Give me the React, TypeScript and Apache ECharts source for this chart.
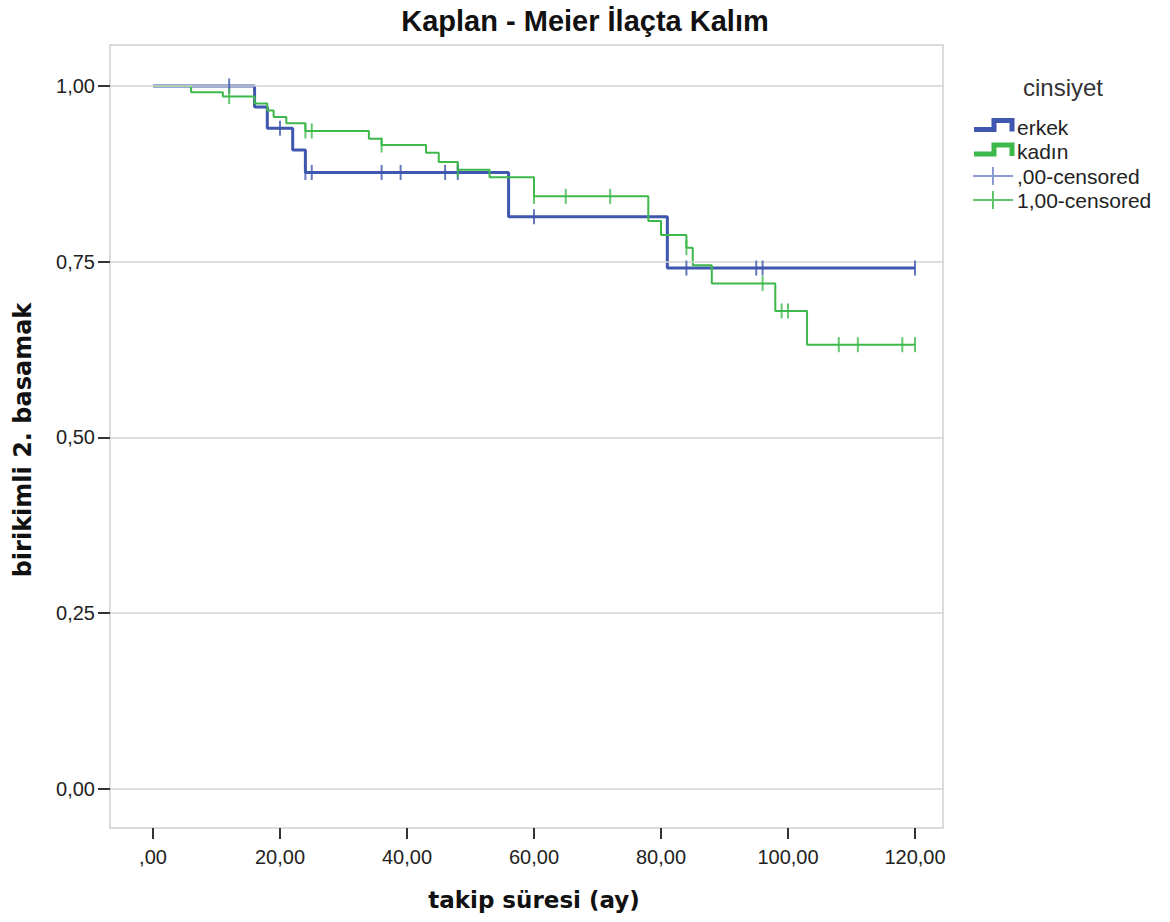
import React, { useEffect, useRef } from "react";
import * as echarts from "echarts";

// ---- data ----
const xTicks = [0, 20, 40, 60, 80, 100, 120];
const xTickLabels = [",00", "20,00", "40,00", "60,00", "80,00", "100,00", "120,00"];
const yTicks = [0, 0.25, 0.5, 0.75, 1];
const yTickLabels = ["0,00", "0,25", "0,50", "0,75", "1,00"];

const erkekTimes = [0, 16, 18, 22, 24, 56, 81, 120];
const erkekSurv = [1.0, 0.97, 0.94, 0.909, 0.877, 0.814, 0.741, 0.741];
const erkekCensorTimes = [12, 20, 24, 25, 36, 39, 46, 48, 60, 84, 95, 96, 120];

const kadinTimes = [0, 6, 11, 16, 18, 19, 21, 24, 34, 36, 43, 45, 48, 53, 60, 78, 80, 84, 85, 88, 98, 103, 120];
const kadinSurv = [1.0, 0.991, 0.985, 0.975, 0.965, 0.956, 0.947, 0.936, 0.925, 0.916, 0.905, 0.892, 0.881, 0.87, 0.843, 0.808, 0.788, 0.77, 0.745, 0.719, 0.68, 0.632, 0.632];
const kadinCensorTimes = [12, 24, 25, 36, 48, 60, 65, 72, 84, 96, 99, 100, 108, 111, 118, 120];

const titleText = "Kaplan - Meier İlaçta Kalım";
const xName = "takip süresi (ay)";
const yName = "birikimli 2. basamak";
const legendTitle = "cinsiyet";
const groupNames = ["erkek", "kadın"];
const censorNames = [",00-censored", "1,00-censored"];

const BLUE = "#3F57AE";
const GREEN = "#3DB94B";
const BLUE_LIGHT = "#8C9BD3";
const GREEN_LIGHT = "#62C46D";
const SANS = "'Liberation Sans', Arial, sans-serif";
const BOLD_AXIS = "'DejaVu Sans', sans-serif";

function survAt(times: number[], surv: number[], t: number) {
  let v = surv[0];
  for (let i = 0; i < times.length; i++) if (times[i] <= t) v = surv[i];
  return v;
}

function labelFor(ticks: number[], labels: string[], v: number) {
  for (let i = 0; i < ticks.length; i++) if (Math.abs(ticks[i] - v) < 1e-6) return labels[i];
  return "";
}

function stepIcon(x: number, y: number, color: string) {
  return {
    type: "polyline",
    shape: { points: [[x, y + 9], [x + 20, y + 9], [x + 20, y], [x + 38, y], [x + 38, y + 11]] },
    style: { stroke: color, lineWidth: 5, fill: null },
  };
}

function censorIcon(x: number, y: number, color: string) {
  return [
    { type: "line", shape: { x1: x, y1: y, x2: x + 40, y2: y }, style: { stroke: color, lineWidth: 2 } },
    { type: "line", shape: { x1: x + 20, y1: y - 9, x2: x + 20, y2: y + 9 }, style: { stroke: color, lineWidth: 2 } },
  ];
}

function txt(x: number, y: number, text: string, font: string, fill = "#222", align = "left", rotation = 0) {
  return {
    type: "text",
    x,
    y,
    rotation,
    style: { text, font, fill, align, textAlign: align, verticalAlign: "middle", textVerticalAlign: "middle" },
  };
}

export default function App() {
  const ref = useRef<HTMLDivElement>(null);
  useEffect(() => {
    if (!ref.current) return;
    const chart = echarts.init(ref.current, undefined, { renderer: "svg" });
    const option: any = {
      animation: false,
      backgroundColor: "#fff",
      grid: {
        left: 110,
        top: 45,
        width: 833,
        height: 783,
        show: true,
        borderColor: "#cfcfcf",
        borderWidth: 1.5,
        containLabel: false,
      },
      xAxis: {
        type: "value",
        min: -6.77,
        max: 124.41,
        axisLine: { show: false, onZero: false },
        splitLine: { show: false },
        axisTick: { show: true, customValues: xTicks, length: 11, inside: false, lineStyle: { color: "#333", width: 2 } },
        axisLabel: {
          customValues: xTicks,
          formatter: (v: number) => labelFor(xTicks, xTickLabels, v),
          margin: 19,
          fontSize: 20,
          color: "#222",
          fontFamily: SANS,
        },
      },
      yAxis: {
        type: "value",
        min: -0.0555,
        max: 1.0583,
        axisLine: { show: false, onZero: false },
        splitLine: { show: false },
        axisTick: { show: true, customValues: yTicks, length: 12, lineStyle: { color: "#333", width: 2 } },
        axisLabel: {
          customValues: yTicks,
          formatter: (v: number) => labelFor(yTicks, yTickLabels, v),
          margin: 15,
          fontSize: 20,
          color: "#222",
          fontFamily: SANS,
        },
      },
      series: [
        {
          name: "grid",
          type: "line",
          data: [],
          z: 1,
          silent: true,
          markLine: {
            silent: true,
            symbol: ["none", "none"],
            label: { show: false },
            lineStyle: { color: "#d3d3d3", width: 1.5, type: "solid" },
            data: yTicks.map((v) => ({ yAxis: v })),
          },
        },
        {
          name: groupNames[0],
          type: "line",
          step: "end",
          showSymbol: false,
          clip: false,
          z: 3,
          data: erkekTimes.map((t, i) => [t, erkekSurv[i]]),
          lineStyle: { color: BLUE, width: 3 },
          itemStyle: { color: BLUE },
        },
        {
          name: groupNames[1],
          type: "line",
          step: "end",
          showSymbol: false,
          clip: false,
          z: 4,
          data: kadinTimes.map((t, i) => [t, kadinSurv[i]]),
          lineStyle: { color: GREEN, width: 2 },
          itemStyle: { color: GREEN },
        },
        {
          name: censorNames[0],
          type: "scatter",
          symbol: "rect",
          symbolSize: [2, 15],
          clip: false,
          z: 5,
          itemStyle: { color: BLUE },
          data: erkekCensorTimes.map((t) => [t, survAt(erkekTimes, erkekSurv, t)]),
        },
        {
          name: censorNames[1],
          type: "scatter",
          symbol: "rect",
          symbolSize: [2, 15],
          clip: false,
          z: 6,
          itemStyle: { color: GREEN },
          data: kadinCensorTimes.map((t) => [t, survAt(kadinTimes, kadinSurv, t)]),
        },
      ],
      graphic: [
        txt(585, 21, titleText, `bold 29px ${SANS}`, "#111", "center"),
        txt(534, 900, xName, `bold 23px ${BOLD_AXIS}`, "#111", "center"),
        txt(23, 440, yName, `bold 24px ${BOLD_AXIS}`, "#111", "center", Math.PI / 2),
        txt(1063, 87, legendTitle, `24px ${SANS}`, "#333", "center"),
        stepIcon(974, 120.5, BLUE),
        txt(1017, 127, groupNames[0], `21px ${SANS}`),
        stepIcon(974, 145, GREEN),
        txt(1017, 151, groupNames[1], `21px ${SANS}`),
        ...censorIcon(973, 176, BLUE_LIGHT),
        txt(1017, 176, censorNames[0], `21px ${SANS}`),
        ...censorIcon(973, 200, GREEN_LIGHT),
        txt(1017, 200, censorNames[1], `21px ${SANS}`),
      ],
    };
    chart.setOption(option);
    return () => chart.dispose();
  }, []);
  return (
    <div
      ref={ref}
      style={{ position: "absolute", left: 0, top: 0, width: 1170, height: 922, background: "#fff" }}
    />
  );
}
